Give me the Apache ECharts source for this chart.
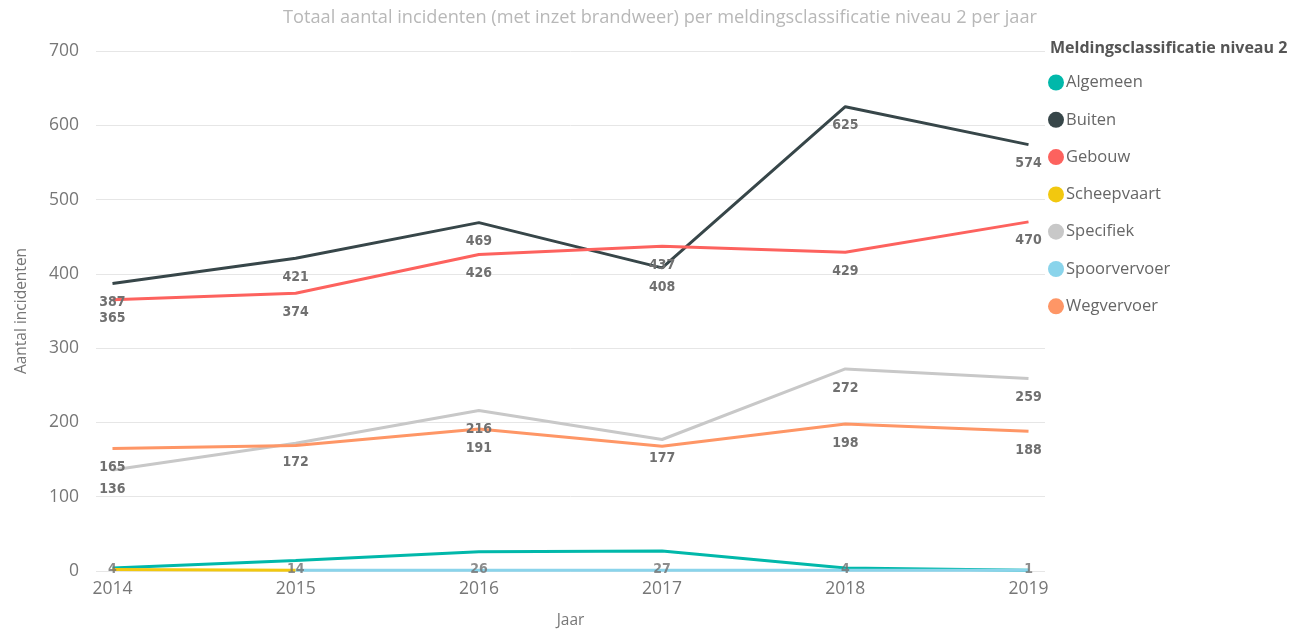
<!DOCTYPE html>
<html>
<head>
<meta charset="utf-8">
<script src="https://cdn.jsdelivr.net/npm/echarts@6/dist/echarts.min.js"></script>
<style>
  html, body { margin: 0; padding: 0; background: #fff; }
  #chart { width: 1291px; height: 634px; }
</style>
</head>
<body>
<div id="chart"></div>
<script>
const years = [2014, 2015, 2016, 2017, 2018, 2019];
const yTicks = [0, 100, 200, 300, 400, 500, 600, 700];

const algemeen = [4, 14, 26, 27, 4, 1];
const buiten = [387, 421, 469, 408, 625, 574];
const gebouw = [365, 374, 426, 437, 429, 470];
const scheepvaart = [2, 1, null, null, null, null];
const specifiek = [136, 172, 216, 177, 272, 259];
const spoorvervoer = [null, 1, 1, 1, 1, 1];
const wegvervoer = [165, 169, 191, 168, 198, 188];
// labels Power BI left out because they overlapped
const wegvervoerHidden = [2015, 2017];

const colors = {
  Algemeen: "#01B8AA",
  Buiten: "#374649",
  Gebouw: "#FD625E",
  Scheepvaart: "#F2C80F",
  Specifiek: "#C8C8C8",
  Spoorvervoer: "#8AD4EB",
  Wegvervoer: "#FE9666",
};

const labelFont = {
  color: "#707070",
  fontSize: 14,
  fontFamily: "'Liberation Sans Narrow', 'DejaVu Sans Condensed', sans-serif",
  fontWeight: "bold",
};

const pairs = (arr) => years.map((y, i) => [y, arr[i]]);

const lineSeries = (name, arr, showLabel, hidden) => ({
  name: name,
  type: "line",
  data: years.map((y, i) => ({
    value: [y, arr[i]],
    label: { show: showLabel && !(hidden || []).includes(y) },
  })),
  color: colors[name],
  symbol: "circle",
  symbolSize: 0,
  showSymbol: true,
  lineStyle: { width: 3 },
  label: Object.assign({ show: showLabel, position: "bottom", distance: 12 }, labelFont),
  labelLayout: { hideOverlap: false },
  emphasis: { disabled: true },
  silent: true,
});

const chart = echarts.init(document.getElementById("chart"));

chart.setOption({
  animation: false,
  title: {
    text: "Totaal aantal incidenten (met inzet brandweer) per meldingsclassificatie niveau 2 per jaar",
    left: 655,
    textAlign: "center",
    top: 4,
    textStyle: {
      color: "#b8b8b8",
      fontSize: 18.2,
      fontWeight: "normal",
      fontFamily: "'Open Sans', sans-serif",
    },
  },
  graphic: [{
    type: "text",
    left: 1050,
    top: 40,
    style: {
      text: "Meldingsclassificatie niveau 2",
      fill: "#555",
      font: "bold 16px 'Open Sans', sans-serif",
    },
  }],
  legend: {
    orient: "vertical",
    left: 1048,
    top: 74,
    icon: "circle",
    itemWidth: 16,
    itemHeight: 16,
    itemGap: 20.3,
    padding: 0,
    textStyle: {
      color: "#666",
      fontSize: 16.5,
      fontFamily: "'Open Sans', sans-serif",
      padding: [0, 0, 0, -3],
    },
    data: Object.keys(colors),
  },
  grid: { left: 96, right: 246, top: 51, bottom: 61 },
  xAxis: {
    type: "value",
    min: 2013.91,
    max: 2019.09,
    name: "Jaar",
    nameLocation: "middle",
    nameGap: 42,
    nameTextStyle: { color: "#777", fontSize: 15.5, fontFamily: "'Open Sans', sans-serif" },
    axisLine: { show: false },
    axisTick: { show: false },
    splitLine: { show: false },
    axisLabel: {
      customValues: years,
      formatter: (v) => String(v),
      color: "#777",
      fontSize: 17.5,
      margin: 9,
      fontFamily: "'Open Sans', sans-serif",
    },
  },
  yAxis: {
    type: "value",
    min: yTicks[0],
    max: yTicks[yTicks.length - 1],
    interval: 100,
    name: "Aantal incidenten",
    nameLocation: "middle",
    nameGap: 66,
    nameTextStyle: { color: "#777", fontSize: 15.5, fontFamily: "'Open Sans', sans-serif" },
    axisLine: { show: false },
    axisTick: { show: false },
    splitLine: { lineStyle: { color: "#e6e6e6", width: 1 } },
    axisLabel: {
      color: "#777",
      fontSize: 17.5,
      margin: 17,
      fontFamily: "'Open Sans', sans-serif",
    },
  },
  series: [
    lineSeries("Algemeen", algemeen, false),
    lineSeries("Buiten", buiten, true),
    lineSeries("Gebouw", gebouw, true),
    lineSeries("Scheepvaart", scheepvaart, false),
    lineSeries("Specifiek", specifiek, true),
    lineSeries("Spoorvervoer", spoorvervoer, false),
    lineSeries("Wegvervoer", wegvervoer, true, wegvervoerHidden),
    {
      // Algemeen labels sit on the baseline (pushed inside the plot)
      name: "AlgemeenLabels",
      type: "scatter",
      data: pairs(algemeen.map(() => 0)),
      symbolSize: 0,
      silent: true,
      z: 5,
      label: Object.assign({
        show: true,
        position: "inside",
        offset: [0, -2],
        formatter: (p) => String(algemeen[p.dataIndex]),
      }, labelFont),
    },
  ],
});
</script>
</body>
</html>
